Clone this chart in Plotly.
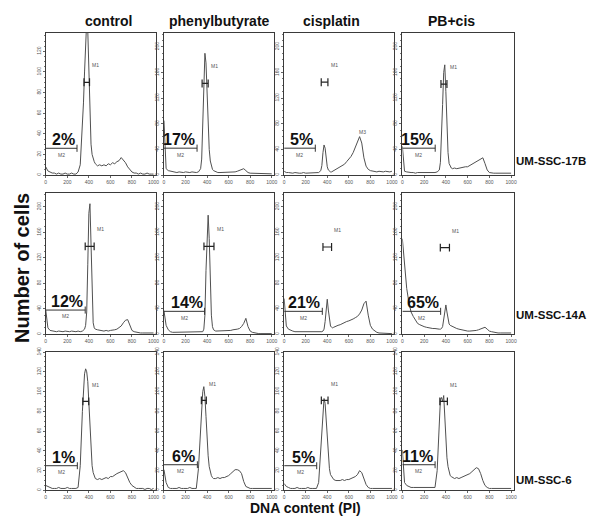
import plotly.graph_objects as go

# ---------------- data ----------------
CONDITIONS = ["control", "phenylbutyrate", "cisplatin", "PB+cis"]
CELL_LINES = ["UM-SSC-17B", "UM-SSC-14A", "UM-SSC-6"]

# DNA content channel grid (PI)
DNA = list(range(0, 340, 20)) + list(range(340, 460, 10)) + list(range(460, 1001, 20))

# cell counts per channel (row-major: 17B, 14A, 6 ; control, PB, cis, PB+cis)
C17B_CONTROL = [8,4,3,2,2,1,2,1,1,2,1,1,2,1,1,3,10,
                45,70,100,130,150,140,100,55,30,20,16,13,
                11,9,10,9,10,9,11,10,12,11,13,14,17,15,12,8,5,3,2,2,1,2,1,1,2,1,1,1]
C17B_PB = [85,10,7,6,5,5,4,5,4,4,5,4,4,5,4,4,5,
           10,25,70,140,190,175,120,70,40,22,14,9,
           7,5,4,4,4,5,4,5,4,5,5,6,7,9,10,7,4,3,3,2,2,2,2,2,2,2,2,2]
C17B_CIS = [6,4,4,3,3,4,3,3,3,4,3,3,3,3,3,3,4,
            7,15,35,47,42,25,13,8,6,5,5,6,
            7,8,10,12,14,17,21,25,29,35,44,54,60,50,27,14,9,7,6,6,5,6,5,5,6,5,5,6]
C17B_PBCIS = [45,6,5,4,4,4,3,4,4,3,4,4,3,4,4,4,5,
              8,20,55,110,160,172,130,70,35,18,13,11,
              10,11,10,11,12,12,13,13,15,16,18,20,22,25,27,18,8,4,3,3,3,3,2,3,3,2,3,3]

C14A_CONTROL = [38,10,6,5,5,4,5,4,4,5,4,4,5,4,4,5,4,
                5,6,8,14,35,110,190,205,130,50,18,10,
                8,7,6,6,5,6,5,6,6,7,8,10,13,18,22,23,14,6,4,3,3,2,2,2,2,2,2,2]
C14A_PB = [37,14,7,4,3,3,3,4,3,3,3,4,3,3,3,4,3,
           3,3,4,8,30,100,160,187,150,85,30,12,
           7,5,5,5,6,5,6,6,6,7,7,8,9,12,17,25,12,5,3,2,2,1,1,1,1,1,1,1]
C14A_CIS = [56,13,8,6,5,4,4,4,3,4,4,3,4,4,3,4,4,
            4,4,5,8,20,45,55,38,20,13,11,10,
            11,13,14,15,17,18,20,21,22,24,26,28,32,38,48,52,30,14,8,5,3,2,2,1,1,1,1,1]
C14A_PBCIS = [150,110,72,50,35,28,22,17,15,13,12,11,10,10,9,9,8,
              8,8,9,12,25,42,46,35,22,16,14,13,
              13,11,9,8,7,6,6,5,5,5,6,6,7,8,10,11,8,5,4,3,3,2,2,2,2,2,2,2]

C6_CONTROL = [5,4,3,2,2,2,3,2,2,2,3,2,2,2,2,3,25,
              80,105,118,123,120,110,90,62,38,25,18,15,
              12,11,12,11,12,13,12,14,14,16,17,18,19,20,18,13,8,5,3,2,2,2,2,1,2,2,1,2]
C6_PB = [21,8,3,2,2,2,2,3,2,2,2,2,3,2,2,2,22,
         68,85,100,105,95,75,52,35,24,18,15,13,
         12,12,13,12,13,13,14,15,17,19,21,21,20,17,9,4,3,2,2,2,2,2,2,2,2,2,2,2]
C6_CIS = [7,4,3,2,2,2,3,2,2,2,2,3,2,2,2,2,8,
          40,60,80,93,88,70,48,32,22,16,14,12,
          11,10,10,10,11,10,11,11,12,13,14,16,20,18,12,6,3,2,2,2,2,2,2,2,2,2,2,2]
C6_PBCIS = [41,8,5,4,3,3,3,3,3,3,3,3,3,3,3,3,20,
            75,92,94,90,96,75,50,33,24,18,15,14,
            13,12,13,12,13,14,15,16,17,19,21,23,22,17,10,5,3,2,2,2,2,2,2,2,2,2,2,2]

HISTS = [C17B_CONTROL, C17B_PB, C17B_CIS, C17B_PBCIS,
         C14A_CONTROL, C14A_PB, C14A_CIS, C14A_PBCIS,
         C6_CONTROL, C6_PB, C6_CIS, C6_PBCIS]

# gates
M1_START = [355, 354, 344, 355, 366, 371, 360, 349, 344, 347, 345, 345]
M1_END = [406, 410, 406, 410, 449, 464, 440, 433, 399, 393, 407, 414]
M1_LEVEL = [90, 143, 145, 142, 138, 138, 137, 136, 90, 91, 91, 90]
M2_END = [290, 307, 289, 302, 366, 377, 354, 352, 293, 310, 302, 301]
M2_LEVEL = [26, 42, 42, 42, 38, 36, 36, 36, 25, 26, 25, 26]
SUBG1_PCT = ["2%", "17%", "5%", "15%", "12%", "14%", "21%", "65%", "1%", "6%", "5%", "11%"]

X_TICKS = [0, 200, 400, 600, 800, 1000]

# ---------------- layout / style ----------------
W, H = 600, 520
COL_PX = [(37, 148), (156, 267), (277, 388), (396, 508)]
ROW_PX = [(20, 164), (182, 325), (343, 483)]
Y_TOP = [138, 222, 222, 222, 222, 222, 222, 222, 140, 140, 140, 140]
Y_STEP = [20, 40, 40, 40, 40, 40, 40, 40, 20, 20, 20, 20]
TITLE_X = [100, 212, 325, 445]
ROW_LABEL_Y = [150, 306, 472]

LINE = "#505050"
AXIS = "#3a3a3a"
FONT = "Arial, Liberation Sans, Helvetica, sans-serif"

fig = go.Figure()
annotations = []

for i in range(12):
    r, c = divmod(i, 4)
    n = i + 1
    xa = "x" if n == 1 else f"x{n}"
    ya = "y" if n == 1 else f"y{n}"
    ymax = Y_TOP[i]

    fig.add_trace(go.Scatter(x=DNA, y=HISTS[i], mode="lines",
                             line=dict(color=LINE, width=1),
                             xaxis=xa, yaxis=ya, showlegend=False, hoverinfo="skip"))

    # M1 gate: bar with end caps
    d1 = 0.028 * ymax
    a, b, y1 = M1_START[i], M1_END[i], M1_LEVEL[i]
    fig.add_trace(go.Scatter(x=[a, a, None, a, b, None, b, b],
                             y=[y1 - d1, y1 + d1, None, y1, y1, None, y1 - d1, y1 + d1],
                             mode="lines", line=dict(color="#222", width=1.2),
                             xaxis=xa, yaxis=ya, showlegend=False, hoverinfo="skip"))
    # M2 gate: line from 0 with cap at right end
    d2 = 0.025 * ymax
    e, y2 = M2_END[i], M2_LEVEL[i]
    fig.add_trace(go.Scatter(x=[0, e, None, e, e],
                             y=[y2, y2, None, y2 - d2, y2 + d2],
                             mode="lines", line=dict(color="#333", width=1),
                             xaxis=xa, yaxis=ya, showlegend=False, hoverinfo="skip"))

    annotations.append(dict(x=b + 8, y=y1 + 0.12 * ymax, xref=xa, yref=ya, text="M1",
                            showarrow=False, xanchor="left", yanchor="middle",
                            font=dict(size=5, color="#555", family=FONT)))
    annotations.append(dict(x=e / 2, y=y2 - 0.045 * ymax, xref=xa, yref=ya, text="M2",
                            showarrow=False, xanchor="center", yanchor="middle",
                            font=dict(size=5, color="#555", family=FONT)))
    annotations.append(dict(x=e, y=y2, xref=xa, yref=ya, text="<b>" + SUBG1_PCT[i] + "</b>",
                            showarrow=False, xanchor="right", yanchor="bottom", yshift=-2,
                            font=dict(size=16, color="#111", family=FONT)))

    l, rr = COL_PX[c]
    t, btm = ROW_PX[r]
    common = dict(showline=True, mirror=True, linecolor=AXIS, linewidth=1,
                  showgrid=False, zeroline=False, ticks="outside", ticklen=2,
                  tickcolor="#666", tickfont=dict(size=5, color="#555", family=FONT))
    fig.update_layout(**{
        ("xaxis" if n == 1 else f"xaxis{n}"): dict(
            domain=[l / W, rr / W], anchor=ya, range=[0, 1023],
            tickvals=X_TICKS, **common),
        ("yaxis" if n == 1 else f"yaxis{n}"): dict(
            domain=[(H - btm) / H, (H - t) / H], anchor=xa, range=[0, ymax],
            dtick=Y_STEP[i], tickangle=-90,
            minor=dict(ticks="outside", ticklen=1, tickcolor="#777", dtick=Y_STEP[i] / 4),
            **common),
    })

# the extra M3 label near G2 peak of 17B cisplatin
annotations.append(dict(x=725, y=68, xref="x3", yref="y3", text="M3", showarrow=False,
                        font=dict(size=5, color="#555", family=FONT)))

for k, name in enumerate(CONDITIONS):
    annotations.append(dict(x=TITLE_X[k] / W, y=(H - 8) / H, xref="paper", yref="paper",
                            text="<b>" + name + "</b>", showarrow=False,
                            xanchor="center", yanchor="middle",
                            font=dict(size=14, color="#111", family=FONT)))
for k, name in enumerate(CELL_LINES):
    annotations.append(dict(x=508 / W, y=(H - ROW_LABEL_Y[k]) / H, xref="paper", yref="paper",
                            text="<b>" + name + "</b>", showarrow=False,
                            xanchor="left", yanchor="middle",
                            font=dict(size=11.5, color="#111", family=FONT)))

annotations.append(dict(x=13 / W, y=(H - 258) / H, xref="paper", yref="paper",
                        text="<b>Number of cells</b>", textangle=-90, showarrow=False,
                        xanchor="center", yanchor="middle",
                        font=dict(size=20, color="#111", family=FONT)))
annotations.append(dict(x=298 / W, y=(H - 501) / H, xref="paper", yref="paper",
                        text="<b>DNA content (PI)</b>", showarrow=False,
                        xanchor="center", yanchor="middle",
                        font=dict(size=14, color="#111", family=FONT)))

fig.update_layout(width=W, height=H, margin=dict(l=0, r=0, t=0, b=0),
                  paper_bgcolor="white", plot_bgcolor="white",
                  annotations=annotations, showlegend=False)

fig.write_html("out.html")
